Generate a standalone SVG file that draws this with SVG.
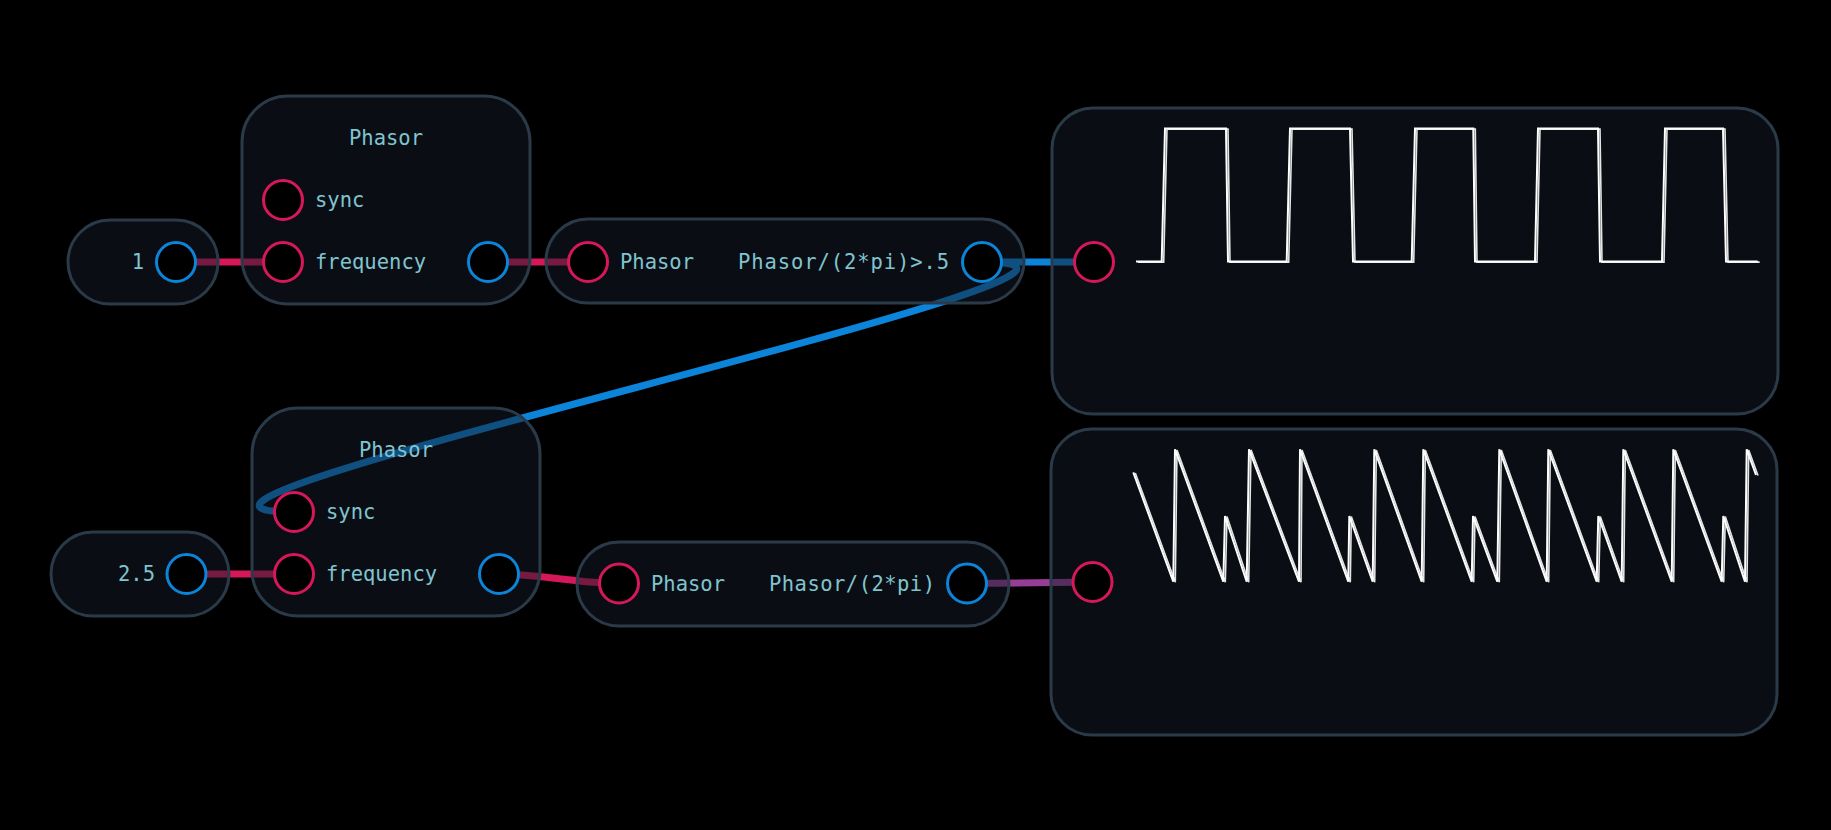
<svg xmlns="http://www.w3.org/2000/svg" width="1831" height="830" viewBox="0 0 1831 830">
<style>
.node{fill:#141c28;fill-opacity:0.5;stroke:#2a3a48;stroke-width:3}
.pin{fill:#000;stroke-width:3}
.in{stroke:#d6185b}
.out{stroke:#0b84d9}
.lbl{font-family:"DejaVu Sans Mono","Liberation Mono",monospace;font-size:20.5px;fill:#80c4d0}
.wire{fill:none;stroke-width:7}
.pink{stroke:#d6185b}
.blue{stroke:#0b84d9}
.purple{stroke:#963e96}
.trace{fill:none;stroke:#ffffff;stroke-width:2;stroke-linejoin:miter}
.trace2{fill:none;stroke:#e4e4e4;stroke-width:1.6;stroke-linejoin:miter}
</style>
<rect x="0" y="0" width="1831" height="830" fill="#000"/>
<g id="connectors">
  <path class="wire pink" d="M176 262 L283 262"/>
  <path class="wire pink" d="M488 262 L588 262"/>
  <path class="wire blue" d="M982 262 L1094 262"/>
  <path class="wire blue" stroke-width="6" d="M982 262 C1232 262 44 512 294 512"/>
  <path class="wire pink" d="M186.5 574 L294 574"/>
  <path class="wire pink" d="M499 574 C540 574 578 583.5 619 583.5"/>
  <path class="wire purple" d="M967 583.5 L1092.5 582"/>
</g>
<g id="const1">
  <rect class="node" x="68" y="220" width="150" height="84" rx="42"/>
  <text class="lbl" x="144" y="269" text-anchor="end">1</text>
  <circle class="pin out" cx="176" cy="262" r="19.5"/>
</g>
<g id="phasor1">
  <rect class="node" x="242" y="96" width="288" height="208" rx="46"/>
  <text class="lbl" x="386" y="145" text-anchor="middle">Phasor</text>
  <circle class="pin in" cx="283" cy="200" r="19.5"/>
  <text class="lbl" x="315" y="207">sync</text>
  <circle class="pin in" cx="283" cy="262" r="19.5"/>
  <text class="lbl" x="315" y="269">frequency</text>
  <circle class="pin out" cx="488" cy="262" r="19.5"/>
</g>
<g id="expr1">
  <rect class="node" x="546" y="219" width="478" height="84" rx="42"/>
  <circle class="pin in" cx="588" cy="262" r="19.5"/>
  <text class="lbl" x="620" y="269">Phasor</text>
  <text class="lbl" x="738" y="269" textLength="211" lengthAdjust="spacing">Phasor/(2*pi)&gt;.5</text>
  <circle class="pin out" cx="982" cy="262" r="19.5"/>
</g>
<g id="scope1">
  <rect class="node" x="1052" y="108" width="726" height="306" rx="41"/>
  <circle class="pin in" cx="1094" cy="262" r="19.5"/>
  <polyline class="trace2" transform="translate(2,0.6)" points="1136,261.5 1161.7,261.5 1165,128.5 1226,128.5 1228,261.5 1286.7,261.5 1290,128.5 1350,128.5 1353,261.5 1411.7,261.5 1415,128.5 1473.3,128.5 1475,261.5 1535,261.5 1538,128.5 1598,128.5 1600,261.5 1662,261.5 1665,128.5 1723,128.5 1726,261.5 1757.7,261.5"/>
  <polyline class="trace" points="1136,261.5 1161.7,261.5 1165,128.5 1226,128.5 1228,261.5 1286.7,261.5 1290,128.5 1350,128.5 1353,261.5 1411.7,261.5 1415,128.5 1473.3,128.5 1475,261.5 1535,261.5 1538,128.5 1598,128.5 1600,261.5 1662,261.5 1665,128.5 1723,128.5 1726,261.5 1757.7,261.5"/>
</g>
<g id="const2">
  <rect class="node" x="51" y="532" width="178" height="84" rx="42"/>
  <text class="lbl" x="155" y="581" text-anchor="end">2.5</text>
  <circle class="pin out" cx="186.5" cy="574" r="19.5"/>
</g>
<g id="phasor2">
  <rect class="node" x="252" y="408" width="288" height="208" rx="46"/>
  <text class="lbl" x="396" y="457" text-anchor="middle">Phasor</text>
  <circle class="pin in" cx="294" cy="512" r="19.5"/>
  <text class="lbl" x="326" y="519">sync</text>
  <circle class="pin in" cx="294" cy="574" r="19.5"/>
  <text class="lbl" x="326" y="581">frequency</text>
  <circle class="pin out" cx="499" cy="574" r="19.5"/>
</g>
<g id="expr2">
  <rect class="node" x="577" y="542" width="432" height="84" rx="42"/>
  <circle class="pin in" cx="619" cy="583.5" r="19.5"/>
  <text class="lbl" x="651" y="590.5">Phasor</text>
  <text class="lbl" x="769" y="590.5" textLength="166" lengthAdjust="spacing">Phasor/(2*pi)</text>
  <circle class="pin out" cx="967" cy="583.5" r="19.5"/>
</g>
<g id="scope2">
  <rect class="node" x="1051" y="429" width="726" height="306" rx="41"/>
  <circle class="pin in" cx="1092.5" cy="582" r="19.5"/>
  <polyline class="trace2" transform="translate(2,0.6)" points="1133.3,472.3 1173.3,581.7 1175,449.3 1223.3,581.7 1225,516 1246.7,581.7 1249,449.3 1299,581.7 1300,449.3 1348.3,581.7 1349.3,516 1372.7,581.7 1374.3,449.3 1421.7,581.7 1423.3,449.3 1471.7,581.7 1473,516 1497.3,581.7 1499.3,449.3 1546.7,581.7 1548.3,449.3 1596.7,581.7 1598.3,516 1621.7,581.7 1623.3,449.3 1671.7,581.7 1673.3,449.3 1721.7,581.7 1723.3,516 1745,581.7 1746.7,449.3 1756,475"/>
  <polyline class="trace" points="1133.3,472.3 1173.3,581.7 1175,449.3 1223.3,581.7 1225,516 1246.7,581.7 1249,449.3 1299,581.7 1300,449.3 1348.3,581.7 1349.3,516 1372.7,581.7 1374.3,449.3 1421.7,581.7 1423.3,449.3 1471.7,581.7 1473,516 1497.3,581.7 1499.3,449.3 1546.7,581.7 1548.3,449.3 1596.7,581.7 1598.3,516 1621.7,581.7 1623.3,449.3 1671.7,581.7 1673.3,449.3 1721.7,581.7 1723.3,516 1745,581.7 1746.7,449.3 1756,475"/>
</g>
</svg>
